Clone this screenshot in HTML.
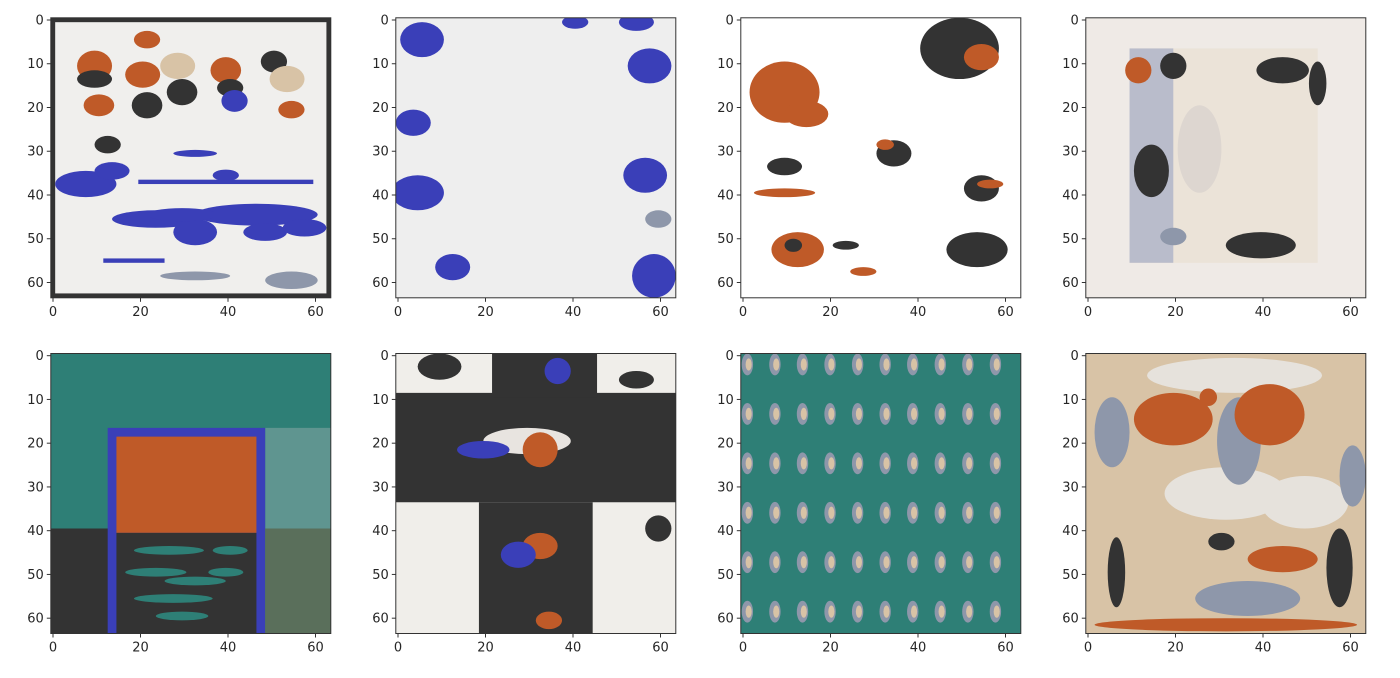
<!DOCTYPE html>
<html><head><meta charset="utf-8"><style>
html,body{margin:0;padding:0;background:#fff;width:1400px;height:678px;overflow:hidden}
svg{display:block}
text{font-family:"DejaVu Sans","Liberation Sans",sans-serif;font-size:13px;fill:#262626}
</style></head><body>
<svg id="fig" width="1400" height="678" viewBox="0 0 1400 678"></svg>
<script>
const xTicks=[0,20,40,60];
const yTicks=[0,10,20,30,40,50,60];
const imgSize=64;
const colLefts=[50.8,395.8,740.8,1085.8];
const rowTops=[17.8,353.5];
const S=4.375;
const O='#bf5a28',D='#333333',B='#3a3fb8',T='#2e7f76',BE='#d8c3a6',L='#e6e4e0',SL='#8e97aa';
// shapes per panel in image units: [type,x,y,w/rx,h/ry,color]
const panels=[
 {bg:'#f0efed',frame:true,shapes:[
  ['e',10,11,4,3.5,O],['e',10,14,4,2,D],['e',11,20,3.5,2.5,O],['e',22,5,3,2,O],['e',21,13,4,3,O],['e',22,20,3.5,3,D],
  ['e',29,11,4,3,BE],['e',30,17,3.5,3,D],['e',40,12,3.5,3,O],['e',41,16,3,2,D],['e',42,19,3,2.5,B],
  ['e',51,10,3,2.5,D],['e',54,14,4,3,BE],['e',55,21,3,2,O],['e',13,29,3,2,D],
  ['e',8,38,7,3,B],['e',14,35,4,2,B],['r',20,37,40,1,B],['e',40,36,3,1.3,B],['e',33,31,5,0.8,B],
  ['e',24,46,10,2,B],['e',33,49,5,3,B],['e',47,45,14,2.5,B],['e',49,49,5,2,B],['e',58,48,5,2,B],['e',30,45,8,1.5,B],
  ['r',12,55,14,1,B],['e',33,59,8,1,SL],['e',55,60,6,2,SL]]},
 {bg:'#eeeeee',shapes:[
  ['e',6,5,5,4,B],['e',4,24,4,3,B],['e',5,40,6,4,B],['e',13,57,4,3,B],['e',41,1,3,1.5,B],['e',55,1,4,2,B],
  ['e',58,11,5,4,B],['e',57,36,5,4,B],['e',59,59,5,5,B],['e',60,46,3,2,SL]]},
 {bg:'#ffffff',shapes:[
  ['e',10,17,8,7,O],['e',15,22,5,3,O],['e',50,7,9,7,D],['e',55,9,4,3,O],['e',35,31,4,3,D],['e',33,29,2,1.2,O],
  ['e',55,39,4,3,D],['e',57,38,3,1,O],['e',10,40,7,1,O],['e',10,34,4,2,D],['e',13,53,6,4,O],['e',12,52,2,1.5,D],
  ['e',54,53,7,4,D],['e',24,52,3,1,D],['e',28,58,3,1,O]]},
 {bg:'#efeae6',shapes:[
  ['r',10,7,43,49,'#ebe3d8'],['r',10,7,10,49,'#b9bccb'],['e',12,12,3,3,O],['e',20,11,3,3,D],['e',15,35,4,6,D],
  ['e',45,12,6,3,D],['e',53,15,2,5,D],['e',40,52,8,3,D],['e',26,30,5,10,'#ddd6d0'],['e',20,50,3,2,SL]]},
 {bg:T,shapes:[
  ['r',49,17,15,23,'#5f9590'],['r',0,40,14,24,D],['r',13,17,36,47,B],['r',15,19,32,22,O],['r',15,41,32,23,D],
  ['r',49,40,15,24,'#5a6f5b'],['e',27,45,8,1,T],['e',24,50,7,1,T],['e',33,52,7,1,T],['e',28,56,9,1,T],['e',30,60,6,1,T],
  ['e',41,45,4,1,T],['e',40,50,4,1,T]]},
 {bg:'#f0eeea',shapes:[
  ['r',0,9,64,25,D],['r',19,34,26,30,D],['r',22,0,24,10,D],['e',10,3,5,3,D],['e',30,20,10,3,'#e8e4e0'],['e',33,22,4,4,O],
  ['e',20,22,6,2,B],['e',33,44,4,3,O],['e',28,46,4,3,B],['e',35,61,3,2,O],['e',37,4,3,3,B],['e',55,6,4,2,D],['e',60,40,3,3,D]]},
 {bg:T,shapes:[]},
 {bg:BE,shapes:[
  ['e',32,32,14,6,'#e6e2dc'],['e',50,34,10,6,'#e6e2dc'],['e',34,5,20,4,'#e6e2dc'],['e',35,20,5,10,SL],['e',6,18,4,8,SL],
  ['e',20,15,9,6,O],['e',42,14,8,7,O],['e',28,10,2,2,O],['e',61,28,3,7,SL],['e',7,50,2,8,D],['e',58,49,3,9,D],
  ['e',31,43,3,2,D],['e',45,47,8,3,O],['e',37,56,12,4,SL],['e',32,62,30,1.5,O]]}
];
const svg=document.getElementById('fig');
const NS='http://www.w3.org/2000/svg';
function mk(t,a){const e=document.createElementNS(NS,t);for(const k in a)e.setAttribute(k,a[k]);return e;}
function px(l,v){return l+(v+0.5)*S;}
panels.forEach((p,i)=>{
 const L0=colLefts[i%4],T0=rowTops[Math.floor(i/4)],W=imgSize*S;
 const g=mk('g',{});
 
 
 svg.appendChild(g);
 const cp=mk('clipPath',{id:'c'+i});cp.appendChild(mk('rect',{x:L0,y:T0,width:W,height:W}));g.appendChild(cp);
 const im=mk('g',{'clip-path':'url(#c'+i+')'});
 
 
 g.appendChild(im);
 const inner=mk('g',{transform:`translate(${L0},${T0}) scale(${S})`});im.appendChild(inner);
 inner.appendChild(mk('rect',{x:0,y:0,width:64,height:64,fill:p.bg}));
 if(p.frame){inner.appendChild(mk('rect',{x:0.5,y:0.5,width:63,height:63,fill:'none',stroke:D,'stroke-width':1}));}
 p.shapes.forEach(s=>{
  let e;
  if(s[0]==='e')e=mk('ellipse',{cx:s[1],cy:s[2],rx:s[3],ry:s[4],fill:s[5]});
  else e=mk('rect',{x:s[1],y:s[2],width:s[3],height:s[4],fill:s[5]});
  inner.appendChild(e);
 });
 if(i===6){
  for(let r=0;r<6;r++)for(let c=0;c<10;c++){
   const cx=1.5+c*6.3,cy=2.5+r*11.3;
   inner.appendChild(mk('ellipse',{cx:cx,cy:cy,rx:1.3,ry:2.5,fill:SL}));
   inner.appendChild(mk('ellipse',{cx:cx+0.3,cy:cy,rx:0.7,ry:1.4,fill:BE}));
  }
 }
 g.appendChild(mk('rect',{x:L0,y:T0,width:W,height:W,fill:'none',stroke:'#333','stroke-width':1}));
 xTicks.forEach(v=>{const x=px(L0,v);
  g.appendChild(mk('line',{x1:x,x2:x,y1:T0+W,y2:T0+W+4,stroke:'#333'}));
  const t=mk('text',{x:x,y:T0+W+18,'text-anchor':'middle'});t.textContent=v;
  
  
  g.appendChild(t);});
 yTicks.forEach(v=>{const y=px(T0,v);
  g.appendChild(mk('line',{x1:L0-4,x2:L0,y1:y,y2:y,stroke:'#333'}));
  const t=mk('text',{x:L0-7,y:y+4.5,'text-anchor':'end'});t.textContent=v;
  
  
  g.appendChild(t);});
});
</script>
</body></html>
